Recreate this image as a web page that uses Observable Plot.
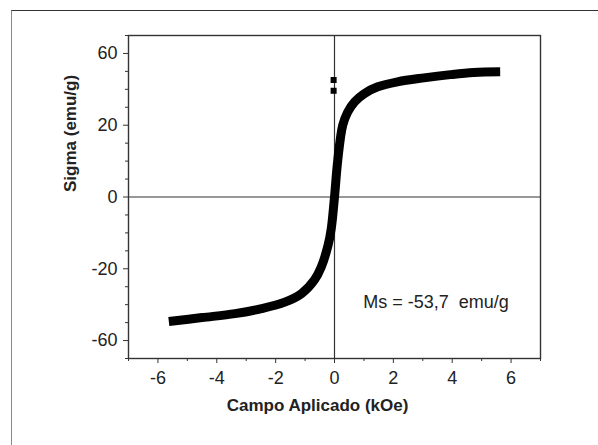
<!DOCTYPE html>
<html>
<head>
<meta charset="utf-8">
<script src="https://cdn.jsdelivr.net/npm/d3@7"></script>
<script src="https://cdn.jsdelivr.net/npm/@observablehq/plot@0.6"></script>
<style>
  html, body { margin: 0; padding: 0; background: #fff; }
  #wrap { position: relative; width: 598px; height: 445px; overflow: hidden; }
  #border { position: absolute; left: 11px; top: 10px; right: 0; bottom: 0;
            border-top: 1.5px solid #333; border-left: 1.5px solid #888; pointer-events: none; }
  svg { font-family: "Liberation Sans", Arial, sans-serif; }
</style>
</head>
<body>
<div id="wrap"><div id="border"></div></div>
<script>
// Hysteresis curve (field in kOe, sigma in plotted units)
const fieldKOe = [-5.63, -4.5, -3.38, -2.48, -1.69, -1.12, -0.68, -0.45, -0.22, -0.11, 0, 0.11, 0.28, 0.45, 0.68, 1.01, 1.47, 2.14, 3.04, 3.94, 4.73, 5.63];
const sigma    = [-34.7, -33.6, -32.5, -31.1, -29.3, -26.9, -23.1, -19.5, -13.5, -8.8, 0, 10.2, 20.0, 23.7, 26.5, 28.8, 30.7, 32.1, 33.2, 34.1, 34.7, 34.9];
// Two isolated points near H = 0
const strayField = [-0.03, -0.03];
const straySigma = [32.6, 29.6];

// Axis ticks
const xMajor = [-6, -4, -2, 0, 2, 4, 6];
const xMinor = [-7, -5, -3, -1, 1, 3, 5, 7];
const yMajor = [-40, -20, 0, 20, 40];
const yLabels = ["-60", "-20", "0", "20", "60"];
const yMinor = [-45, -35, -30, -25, -15, -10, -5, 5, 10, 15, 25, 30, 35, 45];

const xTitle = "Campo Aplicado (kOe)";
const yTitle = "Sigma (emu/g)";
const annotation = [{x: 3.45, y: -29.3, text: "Ms = -53,7  emu/g"}];

const curve = fieldKOe.map((h, i) => ({h, s: sigma[i]}));
const stray = strayField.map((h, i) => ({h, s: straySigma[i]}));

const chart = Plot.plot({
  width: 598,
  height: 445,
  marginLeft: 128,
  marginTop: 35,
  marginRight: 58,
  marginBottom: 87,
  style: {fontSize: "17px", color: "#222", background: "transparent"},
  x: {domain: [-7, 7], axis: null},
  y: {domain: [-45, 45], axis: null},
  marks: [
    Plot.ruleX([0], {stroke: "#333", strokeWidth: 1.2}),
    Plot.ruleY([0], {stroke: "#333", strokeWidth: 1.2}),
    Plot.line(curve, {x: "h", y: "s", stroke: "black", strokeWidth: 9, curve: "catmull-rom", strokeLinecap: "butt", strokeLinejoin: "round"}),
    Plot.dot(stray, {x: "h", y: "s", symbol: "square", r: 3.4, fill: "black", stroke: null}),
    Plot.frame({stroke: "#333", strokeWidth: 1.4}),
    Plot.axisX(xMajor, {tickSize: 5, tickPadding: 8, fontSize: 18, label: null, stroke: "#333", tickFormat: d => String(d)}),
    Plot.axisX(xMinor, {tickSize: 3, tickFormat: () => "", label: null, stroke: "#333"}),
    Plot.axisY(yMajor, {tickSize: 5, tickPadding: 6, fontSize: 18, label: null, stroke: "#333",
      tickFormat: d => yLabels[yMajor.indexOf(d)]}),
    Plot.axisY(yMinor, {tickSize: 3, tickFormat: () => "", label: null, stroke: "#333"}),
    Plot.text([xTitle], {frameAnchor: "bottom", dy: 52, dx: -17, fontSize: 17, fontWeight: "bold", fill: "#222"}),
    Plot.text([yTitle], {frameAnchor: "left", rotate: -90, dx: -58, dy: -5, fontSize: 17, fontWeight: "bold", fill: "#222"}),
    Plot.text(annotation, {x: "x", y: "y", text: "text", fontSize: 18, fill: "#222"})
  ]
});
document.getElementById("wrap").prepend(chart);
</script>
</body>
</html>
